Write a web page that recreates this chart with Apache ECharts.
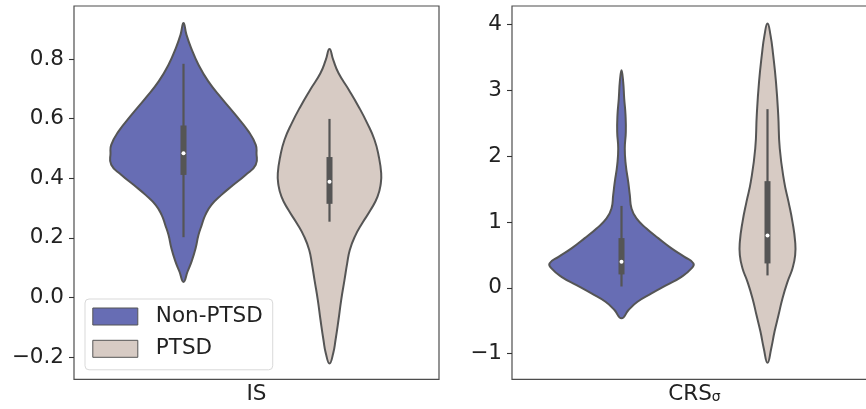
<!DOCTYPE html>
<html>
<head>
<meta charset="utf-8">
<script src="https://cdn.jsdelivr.net/npm/echarts@6/dist/echarts.min.js"></script>
<style>
  html, body { margin: 0; padding: 0; background: #fff; }
  #chart { width: 866px; height: 409px; }
</style>
</head>
<body>
<div id="chart"></div>
<script>
// Panel categories and hue groups
const panels = ['IS', 'CRSσ'];
const groups = ['Non-PTSD', 'PTSD'];

// Kernel density outlines: y positions and relative density (1 = widest violin in the panel)
const isNonY = [0.921, 0.882, 0.837, 0.781, 0.725, 0.669, 0.613, 0.557, 0.512, 0.484, 0.445, 0.411, 0.377, 0.344, 0.310, 0.277, 0.243, 0.209, 0.164, 0.120, 0.086, 0.052];
const isNonD = [0, 0.04, 0.105, 0.205, 0.34, 0.52, 0.71, 0.89, 0.99, 1.0, 0.99, 0.85, 0.68, 0.52, 0.38, 0.30, 0.25, 0.205, 0.165, 0.11, 0.055, 0];
const isPtsdY = [0.834, 0.798, 0.753, 0.697, 0.641, 0.585, 0.529, 0.473, 0.417, 0.383, 0.338, 0.293, 0.249, 0.204, 0.159, 0.114, 0.058, -0.009, -0.076, -0.144, -0.188, -0.222];
const isPtsdD = [0, 0.05, 0.123, 0.264, 0.397, 0.516, 0.616, 0.675, 0.708, 0.703, 0.658, 0.562, 0.448, 0.347, 0.278, 0.242, 0.205, 0.16, 0.123, 0.082, 0.05, 0];
const crsNonY = [3.303, 3.126, 2.874, 2.621, 2.367, 2.115, 1.862, 1.608, 1.407, 1.205, 1.053, 0.901, 0.750, 0.598, 0.470, 0.370, 0.294, 0.167, 0.041, -0.085, -0.212, -0.338, -0.464];
const crsNonD = [0, 0.023, 0.037, 0.055, 0.059, 0.045, 0.059, 0.092, 0.114, 0.137, 0.205, 0.342, 0.507, 0.685, 0.863, 0.986, 0.959, 0.822, 0.616, 0.411, 0.219, 0.096, 0];
const crsPtsdY = [4.012, 3.835, 3.531, 3.126, 2.621, 2.115, 1.608, 1.305, 1.002, 0.698, 0.496, 0.294, 0.091, -0.161, -0.414, -0.668, -0.920, -1.138];
const crsPtsdD = [0, 0.041, 0.078, 0.116, 0.147, 0.168, 0.229, 0.288, 0.342, 0.379, 0.379, 0.342, 0.274, 0.205, 0.151, 0.096, 0.051, 0];

// Inner box statistics: [lower whisker, Q1, median, Q3, upper whisker]
const isNonBox = [0.202, 0.411, 0.484, 0.577, 0.784];
const isPtsdBox = [0.254, 0.314, 0.388, 0.471, 0.599];
const crsNonBox = [0.020, 0.203, 0.395, 0.755, 1.243];
const crsPtsdBox = [0.188, 0.370, 0.795, 1.619, 2.712];

// Axis ticks and extents
const isTicks = [-0.2, 0, 0.2, 0.4, 0.6, 0.8];
const crsTicks = [-1, 0, 1, 2, 3, 4];
const isRange = [-0.275, 0.978];
const crsRange = [-1.389, 4.278];

const colors = ['#676db4', '#d7cbc4'];
const edge = '#555555';
const textColor = '#222222';
const fontFamily = 'DejaVu Sans';
const fs = 21.5;

function minusFmt(v, digits) {
  const s = Math.abs(v).toFixed(digits);
  return v < 0 ? '\u2212' + s : s;
}

function violin(name, axisIdx, offset, ys, ds, box, color) {
  return {
    type: 'custom',
    name: name,
    xAxisIndex: axisIdx,
    yAxisIndex: axisIdx,
    coordinateSystem: 'cartesian2d',
    clip: false,
    itemStyle: { color: color, borderColor: edge, borderWidth: 1 },
    data: [[0, box[2]]],
    renderItem: function (params, api) {
      const band = api.size([1, 0])[0];
      const half = band * 0.2;
      const cx = api.coord([0, 0])[0] + offset * band;
      const pts = [];
      for (let i = 0; i < ys.length; i++) {
        pts.push([cx + ds[i] * half, api.coord([0, ys[i]])[1]]);
      }
      for (let i = ys.length - 2; i > 0; i--) {
        pts.push([cx - ds[i] * half, api.coord([0, ys[i]])[1]]);
      }
      const yLo = api.coord([0, box[0]])[1];
      const yQ1 = api.coord([0, box[1]])[1];
      const yMed = api.coord([0, box[2]])[1];
      const yQ3 = api.coord([0, box[3]])[1];
      const yHi = api.coord([0, box[4]])[1];
      return {
        type: 'group',
        children: [
          { type: 'polygon', shape: { points: pts, smooth: 0.5 },
            style: { fill: color, stroke: edge, lineWidth: 2, lineJoin: 'round' } },
          { type: 'line', shape: { x1: cx, y1: yLo, x2: cx, y2: yHi },
            style: { stroke: '#555555', lineWidth: 2.2 } },
          { type: 'rect', shape: { x: cx - 3, y: yQ3, width: 6, height: yQ1 - yQ3 },
            style: { fill: '#555555' } },
          { type: 'circle', shape: { cx: cx, cy: yMed, r: 2 },
            style: { fill: '#ffffff' } }
        ]
      };
    }
  };
}

function grid(left) {
  return {
    left: left, top: 6, width: 365, height: 373.3,
    show: true, borderColor: '#4d4d4d', borderWidth: 1.2,
    backgroundColor: 'transparent',
    containLabel: false, outerBoundsMode: 'none'
  };
}

function xAxis(idx, name) {
  return {
    type: 'category', gridIndex: idx, data: [name], boundaryGap: true,
    axisLine: { show: false }, axisTick: { show: false }, splitLine: { show: false },
    axisLabel: {
      color: textColor, fontFamily: fontFamily, fontSize: fs, margin: 4,
      formatter: function (v) { return v === 'CRSσ' ? '{m|CRS}{s|σ}' : v; },
      rich: {
        m: { fontSize: fs, fontFamily: fontFamily, color: textColor },
        s: { fontSize: 14, fontFamily: fontFamily, color: textColor, padding: [6, 0, 0, 0] }
      }
    }
  };
}

function yAxis(idx, range, ticks, digits) {
  return {
    type: 'value', gridIndex: idx, min: range[0], max: range[1],
    axisLine: { show: false },
    splitLine: { show: false },
    axisTick: { show: true, length: 5, customValues: ticks, lineStyle: { color: '#333', width: 1.1 } },
    axisLabel: {
      customValues: ticks, margin: 10, color: textColor, fontFamily: fontFamily, fontSize: fs,
      formatter: function (v) { return minusFmt(v, digits); }
    }
  };
}

const chart = echarts.init(document.getElementById('chart'), null, { renderer: 'canvas' });
chart.setOption({
  animation: false,
  backgroundColor: '#ffffff',
  grid: [grid(74), grid(512)],
  xAxis: [xAxis(0, panels[0]), xAxis(1, panels[1])],
  yAxis: [yAxis(0, isRange, isTicks, 1), yAxis(1, crsRange, crsTicks, 0)],
  legend: {
    data: groups,
    orient: 'vertical',
    left: 85, top: 299,
    padding: [6.5, 10, 10, 7.3],
    itemGap: 10.3,
    itemWidth: 45, itemHeight: 17,
    icon: 'rect',
    backgroundColor: 'rgba(255,255,255,0.85)',
    borderColor: '#d9d9d9', borderWidth: 1, borderRadius: 4,
    itemStyle: { borderColor: edge, borderWidth: 1 },
    textStyle: { color: textColor, fontFamily: fontFamily, fontSize: fs, lineHeight: 21.5, padding: [0, 0, 0, 13] }
  },
  series: [
    violin(groups[0], 0, -0.2, isNonY, isNonD, isNonBox, colors[0]),
    violin(groups[1], 0, 0.2, isPtsdY, isPtsdD, isPtsdBox, colors[1]),
    violin(groups[0], 1, -0.2, crsNonY, crsNonD, crsNonBox, colors[0]),
    violin(groups[1], 1, 0.2, crsPtsdY, crsPtsdD, crsPtsdBox, colors[1])
  ]
});
</script>
</body>
</html>
